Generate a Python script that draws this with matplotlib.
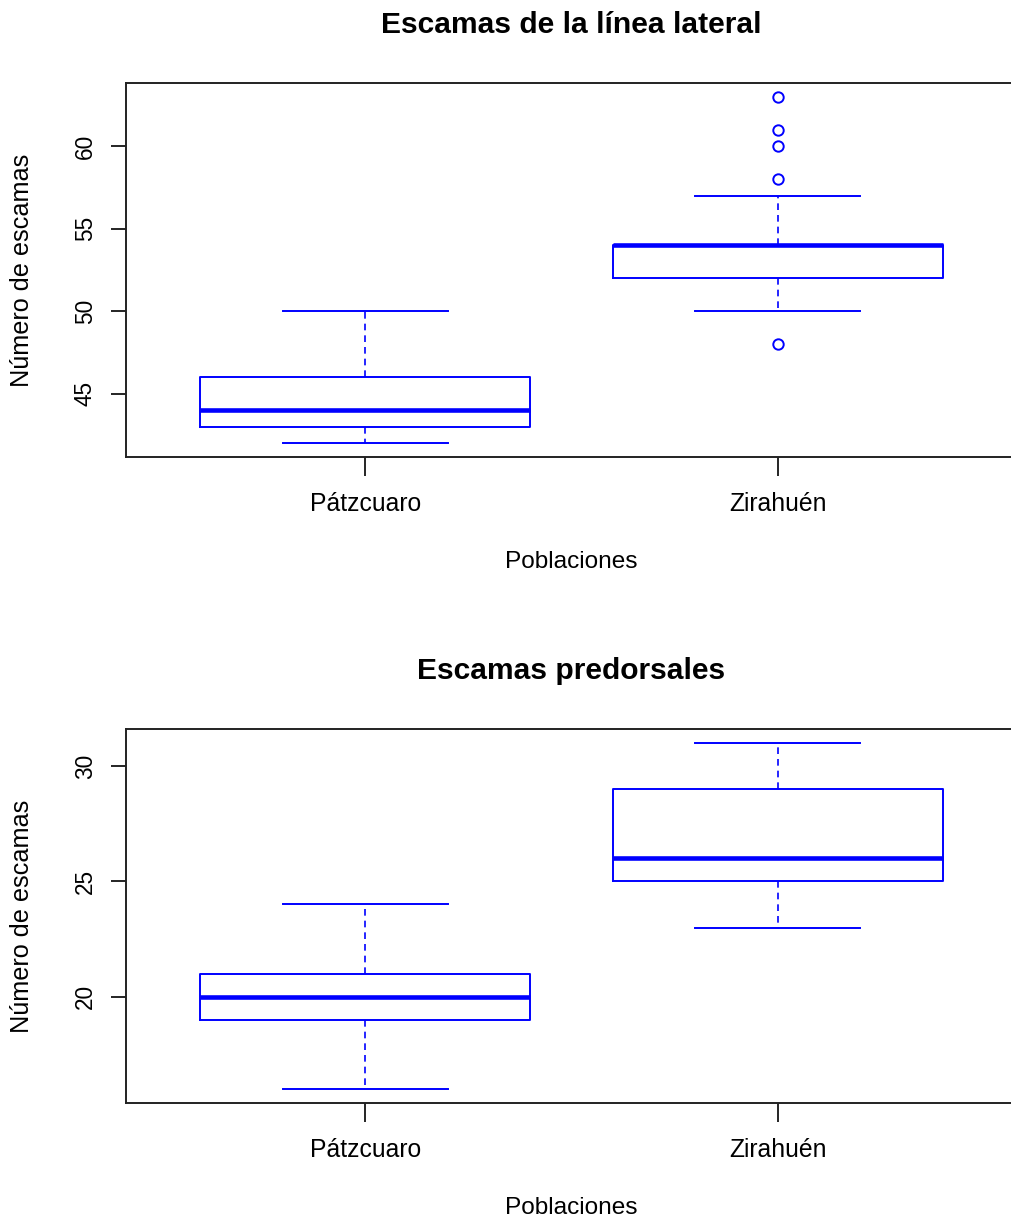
import matplotlib
matplotlib.use('Agg')
import matplotlib.pyplot as plt

plt.rcParams['font.family'] = ['Liberation Sans', 'DejaVu Sans']

groups = ['Pátzcuaro', 'Zirahuén']

# Escamas de la línea lateral
lat_lo = [42, 50]
lat_q1 = [43, 52]
lat_med = [44, 54]
lat_q3 = [46, 54]
lat_hi = [50, 57]
lat_out = [[], [48, 58, 60, 61, 63]]

# Escamas predorsales
pre_lo = [16, 23]
pre_q1 = [19, 25]
pre_med = [20, 26]
pre_q3 = [21, 29]
pre_hi = [24, 31]
pre_out = [[], []]

blue = '#0000FF'
W, H = 1011, 1222


def make_stats(lo, q1, med, q3, hi, out):
    stats = []
    for i in range(len(groups)):
        stats.append({'whislo': lo[i], 'q1': q1[i], 'med': med[i], 'q3': q3[i],
                      'whishi': hi[i], 'fliers': out[i], 'label': groups[i]})
    return stats


def draw_panel(ax, stats, title, yticks):
    ax.bxp(stats, positions=[1, 2], widths=0.8, capwidths=0.4,
           boxprops=dict(color=blue, linewidth=1.4),
           medianprops=dict(color=blue, linewidth=3.3, solid_capstyle='butt'),
           whiskerprops=dict(color=blue, linewidth=1.2, linestyle=(0, (4, 3))),
           capprops=dict(color=blue, linewidth=1.4),
           flierprops=dict(marker='o', markerfacecolor='none', markeredgecolor=blue,
                           markersize=7.5, markeredgewidth=1.4))
    vals = [s['whislo'] for s in stats] + [s['whishi'] for s in stats]
    for s in stats:
        vals += list(s['fliers'])
    pad = 0.04 * (max(vals) - min(vals))
    ax.set_ylim(min(vals) - pad, max(vals) + pad)
    ax.set_xlim(0.42, 2.58)
    ax.set_yticks(yticks)
    ax.set_xticks([1, 2])
    ax.set_xticklabels(groups, fontsize=17.8)
    ax.set_yticklabels([str(t) for t in yticks], fontsize=16.3)
    for lab in ax.get_yticklabels():
        lab.set_rotation(90)
        lab.set_va('center')
        lab.set_ha('right')
    ax.tick_params(axis='x', length=14, width=1.2, pad=11, colors='black')
    ax.tick_params(axis='y', length=11, width=1.2, pad=10, colors='black')
    for sp in ax.spines.values():
        sp.set_linewidth(1.4)
        sp.set_color('#222222')
    ax.set_xlabel('Poblaciones', fontsize=17.6, va='center')
    ax.xaxis.set_label_coords(0.5, -105 / 374)
    ax.set_ylabel('Número de escamas', fontsize=18.2, va='center')
    ax.yaxis.set_label_coords((22 - 126) / 891, 0.5)
    ax.text(0.5, 1 + 58 / 374, title, transform=ax.transAxes, fontsize=21.6,
            fontweight='bold', ha='center', va='center')


fig = plt.figure(figsize=(W / 100, H / 100), dpi=100)
ax1 = fig.add_axes([126 / W, 1 - 457 / H, 891 / W, 374 / H])
ax2 = fig.add_axes([126 / W, 1 - 1103 / H, 891 / W, 374 / H])

draw_panel(ax1, make_stats(lat_lo, lat_q1, lat_med, lat_q3, lat_hi, lat_out),
           'Escamas de la línea lateral', [45, 50, 55, 60])
draw_panel(ax2, make_stats(pre_lo, pre_q1, pre_med, pre_q3, pre_hi, pre_out),
           'Escamas predorsales', [20, 25, 30])

fig.savefig('out.png', dpi=100)
